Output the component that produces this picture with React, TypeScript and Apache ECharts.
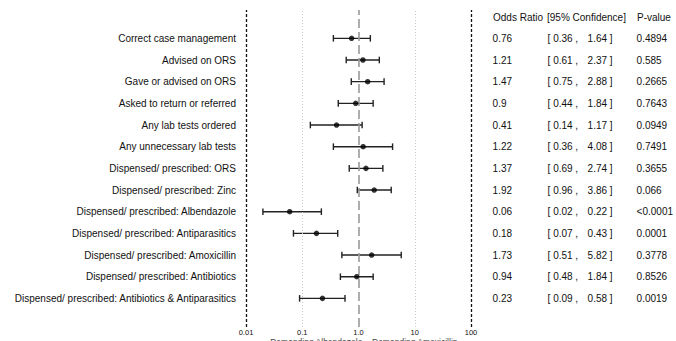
import React, { useEffect, useRef } from "react";
import * as echarts from "echarts";

const categories = [
  "Correct case management",
  "Advised on ORS",
  "Gave or advised on ORS",
  "Asked to return or referred",
  "Any lab tests ordered",
  "Any unnecessary lab tests",
  "Dispensed/ prescribed: ORS",
  "Dispensed/ prescribed: Zinc",
  "Dispensed/ prescribed: Albendazole",
  "Dispensed/ prescribed: Antiparasitics",
  "Dispensed/ prescribed: Amoxicillin",
  "Dispensed/ prescribed: Antibiotics",
  "Dispensed/ prescribed: Antibiotics & Antiparasitics",
];
const oddsRatio = [0.76, 1.21, 1.47, 0.9, 0.41, 1.22, 1.37, 1.92, 0.06, 0.18, 1.73, 0.94, 0.23];
const ciLow = [0.36, 0.61, 0.75, 0.44, 0.14, 0.36, 0.69, 0.96, 0.02, 0.07, 0.51, 0.48, 0.09];
const ciHigh = [1.64, 2.37, 2.88, 1.84, 1.17, 4.08, 2.74, 3.86, 0.22, 0.43, 5.82, 1.84, 0.58];
const pValues = ["0.4894", "0.585", "0.2665", "0.7643", "0.0949", "0.7491", "0.3655", "0.066", "<0.0001", "0.0001", "0.3778", "0.8526", "0.0019"];
const headers = ["Odds Ratio", "[95% Confidence]", "P-value"];
const xTickLabels: Record<string, string> = { "-2": "0.01", "-1": "0.1", "0": "1.0", "1": "10", "2": "100" };
const directionLabels = ["\u2190  Demanding Albendazole", "Demanding Amoxicillin  \u2192"];

const FONT = "Liberation Sans, Arial, Helvetica, sans-serif";
const FS = 10;
const LEFT = 246;
const RIGHT = 676 - 471;

export default function App() {
  const ref = useRef<HTMLDivElement>(null);
  useEffect(() => {
    if (!ref.current) return;
    const chart = echarts.init(ref.current, null, { renderer: "svg" });
    const idx = categories.map((_, i) => String(i));
    const rightAxis = (texts: string[], offset: number) => ({
      type: "category",
      gridIndex: 1,
      position: "right",
      offset,
      inverse: true,
      data: idx,
      axisLine: { show: false },
      axisTick: { show: false },
      axisLabel: {
        margin: 0,
        fontSize: FS,
        color: "#111",
        fontFamily: FONT,
        align: "left",
        formatter: (v: string) => texts[+v],
      },
    });
    const headerText = (text: string, x: number) => ({
      type: "text",
      x,
      y: 17,
      style: { text, fontSize: FS, fontFamily: FONT, fill: "#111", verticalAlign: "middle" },
    });
    const dirText = (text: string, x: number) => ({
      type: "text",
      x,
      y: 337.5,
      silent: true,
      style: { text, fontSize: 8.5, lineHeight: 9, fontFamily: FONT, fill: "#444444", textBorderWidth: 0, verticalAlign: "top" },
    });
    const option: any = {
      animation: false,
      backgroundColor: "#fff",
      grid: [
        { left: LEFT, right: RIGHT, top: 10, bottom: 14 },
        { left: LEFT, right: RIGHT, top: 27.5, height: 281.7 },
      ],
      xAxis: [
        {
          type: "log",
          gridIndex: 0,
          logBase: 10,
          min: 0.01,
          max: 100,
          axisLine: { show: false },
          axisTick: { show: false },
          splitLine: { show: false },
          axisLabel: {
            margin: 1.5,
            fontSize: 7.5,
            lineHeight: 8,
            color: "#111",
            fontFamily: FONT,
            formatter: (v: number) => xTickLabels[String(Math.round(Math.log10(v)))] ?? "",
          },
        },
        {
          type: "log",
          gridIndex: 1,
          logBase: 10,
          min: 0.01,
          max: 100,
          show: false,
        },
      ],
      yAxis: [
        { type: "value", gridIndex: 0, min: 0, max: 1, show: false },
        {
          type: "category",
          gridIndex: 1,
          inverse: true,
          data: idx,
          axisLine: { show: false },
          axisTick: { show: false },
          axisLabel: {
            margin: 10,
            fontSize: FS,
            color: "#111",
            fontFamily: FONT,
            formatter: (v: string) => categories[+v],
          },
        },
        rightAxis(oddsRatio.map(String), 22),
        rightAxis(ciLow.map((v) => "[ " + v.toFixed(2) + " ,"), 77),
        rightAxis(ciHigh.map((v) => v.toFixed(2) + " ]"), 117),
        rightAxis(pValues, 166),
      ],
      graphic: [
        headerText(headers[0], 493),
        headerText(headers[1], 547),
        headerText(headers[2], 637),
        dirText(directionLabels[0], 257),
        dirText(directionLabels[1], 372),
      ],
      series: [
        {
          type: "line",
          xAxisIndex: 0,
          yAxisIndex: 0,
          data: [],
          silent: true,
          color: "#111",
          markLine: {
            silent: true,
            symbol: ["none", "none"],
            label: { show: false },
            data: [
              { xAxis: 0.01, lineStyle: { color: "#111", width: 1.3, type: [3, 2] } },
              { xAxis: 100, lineStyle: { color: "#111", width: 1.3, type: [3, 2] } },
              { xAxis: 0.1, lineStyle: { color: "#c8c8c8", width: 1, type: [1, 2] } },
              { xAxis: 10, lineStyle: { color: "#c8c8c8", width: 1, type: [1, 2] } },
              { xAxis: 1, lineStyle: { color: "#9a9a9a", width: 1.6, type: [9, 4] } },
            ],
          },
        },
        {
          type: "custom",
          xAxisIndex: 1,
          yAxisIndex: 1,
          silent: true,
          data: categories.map((_, i) => [ciLow[i], ciHigh[i], i]),
          renderItem: (params: any, api: any) => {
            const y = api.value(2);
            const p1 = api.coord([api.value(0), y]);
            const p2 = api.coord([api.value(1), y]);
            const h = 3.3;
            const style = { stroke: "#222", lineWidth: 1.4 };
            return {
              type: "group",
              children: [
                { type: "line", shape: { x1: p1[0], y1: p1[1], x2: p2[0], y2: p2[1] }, style },
                { type: "line", shape: { x1: p1[0], y1: p1[1] - h, x2: p1[0], y2: p1[1] + h }, style },
                { type: "line", shape: { x1: p2[0], y1: p2[1] - h, x2: p2[0], y2: p2[1] + h }, style },
              ],
            };
          },
        },
        {
          type: "scatter",
          xAxisIndex: 1,
          yAxisIndex: 1,
          silent: true,
          symbol: "circle",
          symbolSize: 5.5,
          itemStyle: { color: "#000" },
          data: categories.map((_, i) => [oddsRatio[i], i]),
          z: 5,
        },
      ],
    };
    chart.setOption(option);
    return () => chart.dispose();
  }, []);
  return <div ref={ref} style={{ width: 676, height: 341, position: "absolute", left: 0, top: 0 }} />;
}
